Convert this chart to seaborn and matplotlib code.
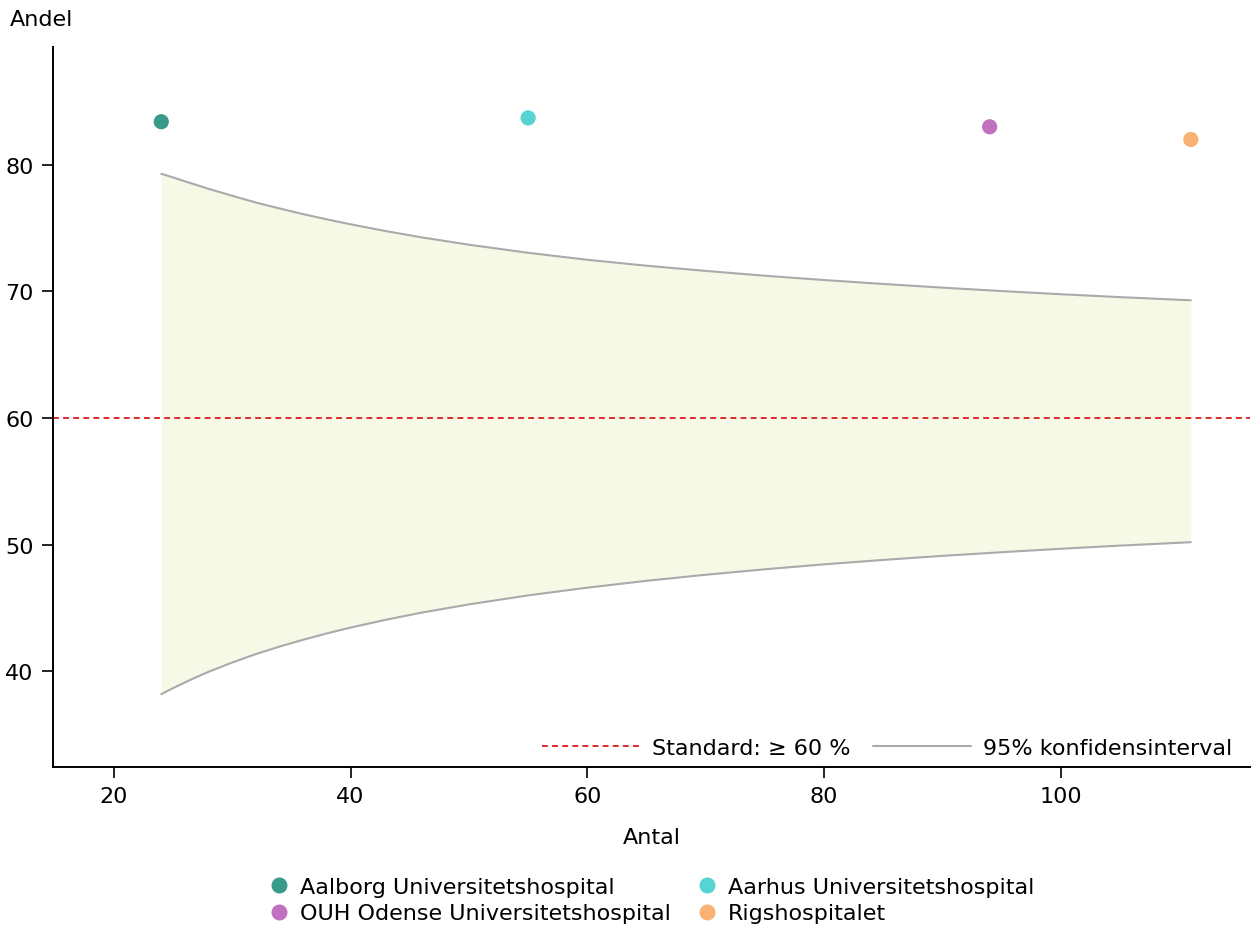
import pandas as pd
import matplotlib.pyplot as plt
import seaborn as sns
from matplotlib.lines import Line2D

# Hospital results
hospitals = ["Aalborg Universitetshospital", "Aarhus Universitetshospital",
             "OUH Odense Universitetshospital", "Rigshospitalet"]
antal = [24, 55, 94, 111]
andel = [83.4, 83.7, 83.0, 82.0]
colors = ["#3a9a8a", "#56d3d3", "#c071c0", "#f9b271"]

# 95% confidence band around the standard
band_n = [24, 25, 26, 27, 28, 30, 32, 34, 36, 38, 40, 43, 46, 50, 55, 60,
          65, 70, 75, 80, 85, 90, 95, 100, 105, 111]
band_upper = [79.29, 79.00, 78.69, 78.40, 78.10, 77.55, 77.02, 76.55, 76.10, 75.69,
              75.30, 74.76, 74.27, 73.69, 73.05, 72.50, 72.03, 71.62, 71.24, 70.90,
              70.59, 70.30, 70.03, 69.78, 69.55, 69.30]
band_lower = [38.20, 38.68, 39.13, 39.56, 39.97, 40.70, 41.37, 41.96, 42.50, 43.00,
              43.46, 44.08, 44.64, 45.29, 46.00, 46.61, 47.15, 47.63, 48.06, 48.45,
              48.80, 49.12, 49.41, 49.68, 49.93, 50.20]
standard = 60

df = pd.DataFrame({"Hospital": hospitals, "Antal": antal, "Andel": andel})
band = pd.DataFrame({"n": band_n, "upper": band_upper, "lower": band_lower})

sns.set_theme(style="ticks")
plt.rcParams["font.family"] = ["DejaVu Sans"]
plt.rcParams["font.size"] = 16
plt.rcParams["text.color"] = "black"
plt.rcParams["xtick.color"] = "black"
plt.rcParams["ytick.color"] = "black"
plt.rcParams["axes.labelcolor"] = "black"

fig, ax = plt.subplots(figsize=(12.52, 9.28), dpi=100)
fig.subplots_adjust(left=53/1252, right=1250/1252, top=1-48/928, bottom=1-768/928)

ax.fill_between(band["n"], band["lower"], band["upper"], color="#f7f9e7", lw=0)
sns.lineplot(data=band, x="n", y="upper", color="#aaaaaa", lw=1.5, ax=ax)
sns.lineplot(data=band, x="n", y="lower", color="#aaaaaa", lw=1.5, ax=ax)
ax.axhline(standard, color="#e0282a", lw=1.4, dashes=(3, 2.2))

sns.scatterplot(data=df, x="Antal", y="Andel", hue="Hospital", hue_order=hospitals,
                palette=colors, s=120, linewidth=0, legend=False, ax=ax, zorder=5)

ax.set_xlim(14.85, 116.0)
ax.set_ylim(32.45, 89.3)
ax.set_xticks([20, 40, 60, 80, 100])
ax.set_yticks([40, 50, 60, 70, 80])
ax.tick_params(labelsize=16, length=8, width=1.2, pad=6, color="black", labelcolor="black")
for s in ["left", "bottom"]:
    ax.spines[s].set_linewidth(1.4)
    ax.spines[s].set_color("black")
sns.despine(ax=ax)

ax.set_xlabel("Antal", fontsize=16, va="center")
ax.xaxis.set_label_coords(0.5, (768-838)/720)
ax.set_ylabel("Andel", fontsize=16, rotation=0, ha="left", va="center")
ax.yaxis.set_label_coords((10-53)/1197, (768-20)/720)

line_handles = [
    Line2D([], [], color="#e0282a", lw=1.4, dashes=(3, 2.2)),
    Line2D([], [], color="#aaaaaa", lw=1.5),
]
ax.legend(line_handles, ["Standard: \u2265 60 %", "95% konfidensinterval"],
          loc="lower right", bbox_to_anchor=(0.9925, 0.0), borderaxespad=0,
          ncol=2, frameon=False, fontsize=16, handlelength=4.4,
          handletextpad=0.55, columnspacing=1.0)

# row-wise order in a 2-column legend
order = [0, 2, 1, 3]
dot_handles = [Line2D([], [], marker="o", ls="", color=colors[i], markersize=10.5)
               for i in order]
fig.legend(dot_handles, [hospitals[i] for i in order], loc="center",
           bbox_to_anchor=(0.521, 1-901/928), ncol=2, frameon=False, fontsize=16,
           handlelength=0.8, handletextpad=0.55, columnspacing=1.2, labelspacing=0.3)

fig.savefig("out.png", dpi=100)
